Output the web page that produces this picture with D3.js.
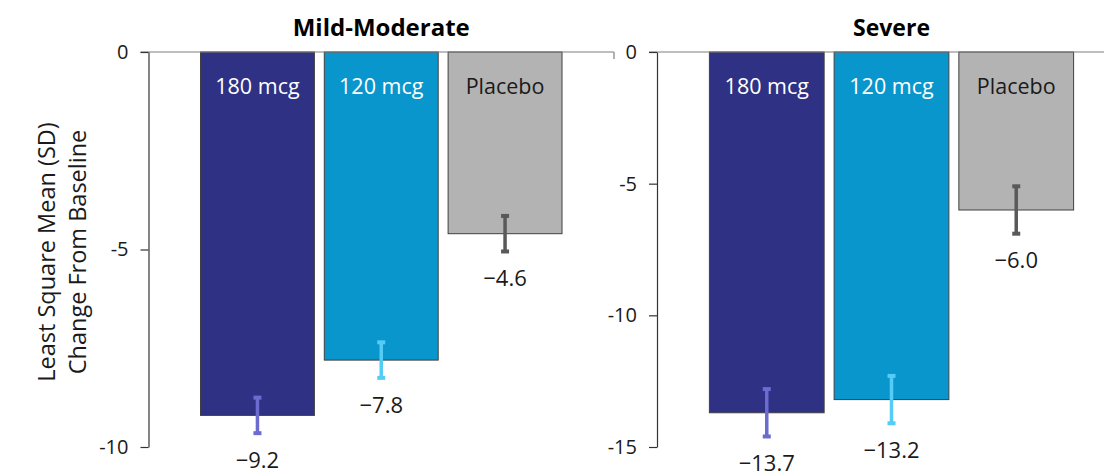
<!DOCTYPE html>
<html>
<head>
<meta charset="utf-8">
<script src="https://cdn.jsdelivr.net/npm/d3@7"></script>
<style>
  body { margin: 0; background: #fff; }
  text { font-family: "Open Sans", sans-serif; }
</style>
</head>
<body>
<div id="chart"></div>
<script>
// data
const groups = ['180 mcg', '120 mcg', 'Placebo'];
const panelTitles = ['Mild-Moderate', 'Severe'];
const mildValues = [-9.2, -7.8, -4.6];
const mildSD = [0.45, 0.45, 0.45];
const severeValues = [-13.7, -13.2, -6.0];
const severeSD = [0.9, 0.9, 0.9];
const mildTicks = [0, -5, -10];
const severeTicks = [0, -5, -10, -15];

const barColors = ['#2e3184', '#0996cc', '#b3b3b3'];
const errColors = ['#6b6bd0', '#55ccf5', '#595959'];
const labelColors = ['#ffffff', '#ffffff', '#1a1a1a'];

const width = 1104, height = 476;
const top0 = 52, bottom = 447;

const svg = d3.select('#chart').append('svg')
    .attr('width', width)
    .attr('height', height);

const panels = [
    { title: panelTitles[0], values: mildValues, sd: mildSD, ticks: mildTicks, min: -10, x0: 148.5, x1: 614, end: true, titleSize: 24 },
    { title: panelTitles[1], values: severeValues, sd: severeSD, ticks: severeTicks, min: -15, x0: 657, x1: 1126, end: false, titleSize: 23 }
];

panels.forEach(p => {
    const x = d3.scaleBand()
        .domain(groups)
        .range([p.x0, p.x1])
        .paddingInner(0.08)
        .paddingOuter(0.42);

    const y = d3.scaleLinear()
        .domain([p.min, 0])
        .range([bottom, top0]);

    const g = svg.append('g');

    // bars
    g.selectAll('rect.bar')
        .data(p.values)
        .enter().append('rect')
        .attr('class', 'bar')
        .attr('x', (d, i) => x(groups[i]))
        .attr('y', y(0))
        .attr('width', x.bandwidth())
        .attr('height', d => y(d) - y(0))
        .attr('fill', (d, i) => barColors[i])
        .attr('stroke', '#404040')
        .attr('stroke-width', 1);

    // zero line (category axis)
    g.append('line')
        .attr('x1', p.x0 - 8).attr('x2', p.end ? p.x1 : width)
        .attr('y1', y(0)).attr('y2', y(0))
        .attr('stroke', '#7f7f7f').attr('stroke-width', 1.2);
    if (p.end) {
        g.append('line')
            .attr('x1', p.x1).attr('x2', p.x1)
            .attr('y1', y(0)).attr('y2', y(0) + 7)
            .attr('stroke', '#7f7f7f').attr('stroke-width', 1.2);
    }

    // y axis
    const axis = g.append('g')
        .attr('transform', `translate(${p.x0},0)`)
        .call(d3.axisLeft(y).tickValues(p.ticks).tickSize(8).tickSizeOuter(0).tickPadding(12)
            .tickFormat(d => String(d)));
    axis.select('.domain').attr('stroke', '#333').attr('stroke-width', 1.2);
    axis.selectAll('.tick line').attr('stroke', '#333').attr('stroke-width', 1.2);
    axis.selectAll('.tick text')
        .attr('font-size', 20)
        .attr('fill', '#1a1a1a')
        .style('font-family', '"Open Sans", sans-serif');

    // error bars
    const eb = g.selectAll('g.err')
        .data(p.values)
        .enter().append('g')
        .attr('class', 'err')
        .attr('stroke', (d, i) => errColors[i]);
    eb.append('line')
        .attr('x1', (d, i) => x(groups[i]) + x.bandwidth() / 2)
        .attr('x2', (d, i) => x(groups[i]) + x.bandwidth() / 2)
        .attr('y1', (d, i) => y(d + p.sd[i]))
        .attr('y2', (d, i) => y(d - p.sd[i]))
        .attr('stroke-width', 3.5);
    [1, -1].forEach(s => {
        eb.append('line')
            .attr('x1', (d, i) => x(groups[i]) + x.bandwidth() / 2 - 4)
            .attr('x2', (d, i) => x(groups[i]) + x.bandwidth() / 2 + 4)
            .attr('y1', (d, i) => y(d + s * p.sd[i]))
            .attr('y2', (d, i) => y(d + s * p.sd[i]))
            .attr('stroke-width', 4);
    });

    // labels inside bars
    g.selectAll('text.cat')
        .data(groups)
        .enter().append('text')
        .attr('class', 'cat')
        .attr('x', d => x(d) + x.bandwidth() / 2)
        .attr('y', y(0) + 34)
        .attr('dy', '0.35em')
        .attr('text-anchor', 'middle')
        .attr('font-size', 21.5)
        .attr('fill', (d, i) => labelColors[i])
        .text(d => d);

    // value labels
    g.selectAll('text.val')
        .data(p.values)
        .enter().append('text')
        .attr('class', 'val')
        .attr('x', (d, i) => x(groups[i]) + x.bandwidth() / 2)
        .attr('y', (d, i) => Math.min(y(d - p.sd[i]) + 27, height - 13))
        .attr('dy', '0.35em')
        .attr('text-anchor', 'middle')
        .attr('font-size', 22)
        .attr('fill', '#1a1a1a')
        .text(d => '\u2212' + Math.abs(d).toFixed(1));

    // panel title
    g.append('text')
        .attr('x', (p.x0 + p.x1) / 2)
        .attr('y', 28)
        .attr('dy', '0.35em')
        .attr('text-anchor', 'middle')
        .attr('font-size', p.titleSize)
        .attr('font-weight', 'bold')
        .attr('fill', '#000')
        .text(p.title);
});

// y axis title
const yTitle = svg.append('text')
    .attr('transform', 'translate(62,252) rotate(-90)')
    .attr('text-anchor', 'middle')
    .attr('font-size', 23.5)
    .attr('fill', '#1a1a1a');
yTitle.append('tspan').attr('x', 0).attr('dy', '-0.3em').text('Least Square Mean (SD)');
yTitle.append('tspan').attr('x', 0).attr('dy', '1.3em').text('Change From Baseline');
</script>
</body>
</html>
